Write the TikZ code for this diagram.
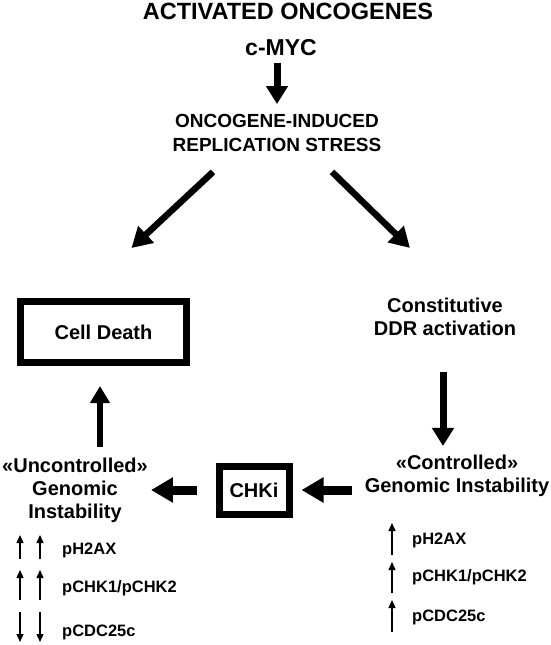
\documentclass[tikz,border=0pt]{standalone}
\usepackage{fontspec}
\setmainfont{Liberation Sans}
\usetikzlibrary{arrows.meta,calc}
\begin{document}
\begin{tikzpicture}[x=1pt,y=-1pt,
  lbl/.style={font=\bfseries\fontsize{20}{23}\selectfont, align=center, inner sep=0pt},
  small/.style={font=\bfseries\fontsize{16.5}{19}\selectfont, anchor=west, inner sep=0pt},
  boxed/.style={lbl, draw, line width=7pt},
  bigarrow/.style={line width=7pt, -{Triangle[length=18pt,width=21pt]}},
  harrow/.style={line width=9pt, -{Triangle[length=22pt,width=24pt]}},
  thinarrow/.style={line width=1.3pt, -{Triangle[length=8pt,width=7pt]}}
]
\useasboundingbox (0,0) rectangle (550,645);

\node[lbl, font=\bfseries\fontsize{23.5}{26}\selectfont] (title) at (288,11) {ACTIVATED ONCOGENES};
\node[lbl, font=\bfseries\fontsize{23}{26}\selectfont] (myc) at (281,48) {c-MYC};
\node[lbl, font=\bfseries\fontsize{19}{24}\selectfont] (ois) at (277,133) {ONCOGENE-INDUCED\\REPLICATION STRESS};

\node[boxed, minimum width=166pt, minimum height=61pt] (cd) at (103.5,332) {Cell Death};
\node[lbl] (cdr) at (445,317) {Constitutive\\DDR activation};
\node[lbl] (ctrl) at (457,476) {«Controlled»\\Genomic Instability};
\node[boxed, minimum width=70pt, minimum height=48pt] (chk) at (254,490) {CHKi};
\node[lbl] (unc) at (75,490) {«Uncontrolled»\\Genomic\\Instability};

% main arrows
\draw[bigarrow] ($(myc.south)+(-4,7)$) -- ($(ois.north)+(0,-10)$);
\draw[line width=6.5pt, -{Triangle[length=20pt,width=22pt]}] ($(ois.south)+(-64,20)$) -- ($(cd.north)+(28,-50)$);
\draw[line width=6.5pt, -{Triangle[length=20pt,width=22pt]}] ($(ois.south)+(55,20)$) -- ($(cdr.north)+(-35,-50)$);
\draw[bigarrow] ($(cdr.south)+(-2,36)$) -- ($(ctrl.north)+(-14,-9)$);
\draw[harrow] ($(chk.east)+(59,0)$) -- ($(chk.east)+(9,0)$);
\draw[harrow] ($(chk.west)+(-19,0)$) -- ($(unc.east)+(3,0)$);
\draw[line width=6.5pt, -{Triangle[length=17pt,width=19pt]}] ($(unc.north)+(25,-10)$) -- ($(cd.south)+(-3.5,20)$);

% left list
\node[small] (l1) at (62,550) {pH2AX};
\node[small] (l2) at (62,588) {pCHK1/pCHK2};
\node[small] (l3) at (62,632) {pCDC25c};
\foreach \dx in {-42,-22}{
  \draw[thinarrow] ($(l1.west)+(\dx,9)$) -- ($(l1.west)+(\dx,-15)$);
  \draw[thinarrow] ($(l2.west)+(\dx,12)$) -- ($(l2.west)+(\dx,-18)$);
  \draw[thinarrow] ($(l3.west)+(\dx,-20)$) -- ($(l3.west)+(\dx,10)$);
}

% right list
\node[small] (r1) at (412,540) {pH2AX};
\node[small] (r2) at (412,577) {pCHK1/pCHK2};
\node[small] (r3) at (412,617) {pCDC25c};
\draw[thinarrow] ($(r1.west)+(-20,15)$) -- ($(r1.west)+(-20,-17)$);
\draw[thinarrow] ($(r2.west)+(-20,16)$) -- ($(r2.west)+(-20,-15)$);
\draw[thinarrow] ($(r3.west)+(-20,15)$) -- ($(r3.west)+(-20,-17)$);
\end{tikzpicture}
\end{document}
